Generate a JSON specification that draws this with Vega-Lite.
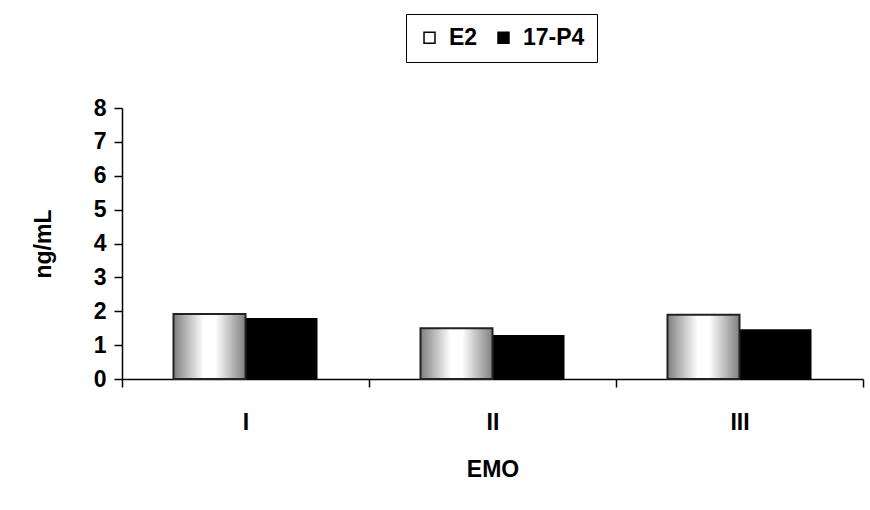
{
  "$schema": "https://vega.github.io/schema/vega-lite/v6.json",
  "autosize": {"type": "none"},
  "width": 741,
  "height": 271,
  "padding": {"left": 122, "top": 108, "right": 7, "bottom": 131},
  "background": "white",
  "config": {
    "font": "Liberation Sans",
    "view": {"stroke": null},
    "axis": {
      "labelFont": "Liberation Sans",
      "labelFontWeight": "bold",
      "labelFontSize": 23,
      "labelColor": "black",
      "titleFont": "Liberation Sans",
      "titleFontWeight": "bold",
      "titleFontSize": 23,
      "titleColor": "black",
      "domainColor": "black",
      "domainWidth": 1.5,
      "tickColor": "black",
      "tickWidth": 1.5,
      "tickSize": 8,
      "grid": false
    }
  },
  "data": {
    "values": [
      {"group": "I", "hormone": "E2", "value": 1.92},
      {"group": "I", "hormone": "17-P4", "value": 1.8},
      {"group": "II", "hormone": "E2", "value": 1.5},
      {"group": "II", "hormone": "17-P4", "value": 1.3},
      {"group": "III", "hormone": "E2", "value": 1.9},
      {"group": "III", "hormone": "17-P4", "value": 1.47}
    ]
  },
  "encoding": {
    "x": {
      "field": "group",
      "type": "nominal",
      "sort": ["I", "II", "III"],
      "scale": {"paddingInner": 0, "paddingOuter": 0},
      "axis": {
        "title": "EMO",
        "labelAngle": 0,
        "tickBand": "extent",
        "labelPadding": 24,
        "titlePadding": 24
      }
    },
    "xOffset": {
      "field": "hormone",
      "type": "nominal",
      "scale": {"domain": ["E2", "17-P4"], "paddingInner": 0, "paddingOuter": 0.715}
    },
    "y": {
      "field": "value",
      "type": "quantitative",
      "scale": {"domain": [0, 8], "nice": false},
      "axis": {
        "title": "ng/mL",
        "values": [0, 1, 2, 3, 4, 5, 6, 7, 8],
        "labelPadding": 8,
        "titlePadding": 38
      }
    }
  },
  "layer": [
    {
      "mark": {"type": "bar"},
      "encoding": {
        "fill": {
          "field": "hormone",
          "type": "nominal",
          "scale": {"domain": ["E2", "17-P4"], "range": ["white", "black"]},
          "legend": {
            "title": null,
            "orient": "none",
            "direction": "horizontal",
            "legendX": 284,
            "legendY": -94,
            "symbolType": "square",
            "symbolSize": 120,
            "symbolStrokeColor": "black",
            "symbolStrokeWidth": 1.5,
            "labelFont": "Liberation Sans",
            "labelFontSize": 23,
            "labelFontWeight": "bold",
            "labelColor": "black",
            "columnPadding": 14,
            "labelOffset": 8,
            "padding": 12,
            "strokeColor": "black",
            "fillColor": "white"
          }
        }
      }
    },
    {
      "transform": [{"filter": "datum.hormone === 'E2'"}],
      "mark": {
        "type": "bar",
        "stroke": "#222222",
        "strokeWidth": 2,
        "fill": {
          "gradient": "linear",
          "x1": 0, "y1": 0, "x2": 1, "y2": 0,
          "stops": [
            {"offset": 0, "color": "#7f7f7f"},
            {"offset": 0.42, "color": "#ffffff"},
            {"offset": 0.58, "color": "#ffffff"},
            {"offset": 1, "color": "#7f7f7f"}
          ]
        }
      }
    }
  ]
}
